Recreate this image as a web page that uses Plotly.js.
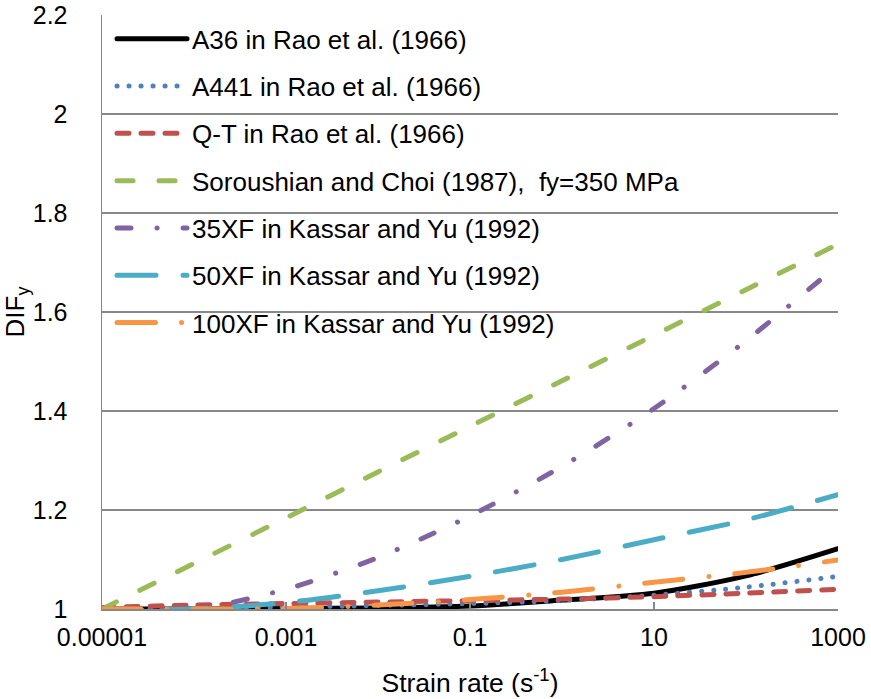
<!DOCTYPE html>
<html>
<head>
<meta charset="utf-8">
<script src="https://cdn.plot.ly/plotly-3.0.1.min.js"></script>
<style>
  html, body { margin: 0; padding: 0; background: #fff; }
  #chart { width: 871px; height: 699px; }
  .js-line { stroke-linecap: round !important; }
</style>
</head>
<body>
<div id="chart"></div>
<script>
// ---- data ----
const strainRate = [1e-5, 1e-4, 1e-3, 1e-2, 1e-1, 1, 10, 100, 1000];
const difA36     = [1.000, 1.000, 1.001, 1.002, 1.006, 1.018, 1.032, 1.067, 1.122];
const difA441    = [1.000, 1.002, 1.004, 1.007, 1.011, 1.017, 1.028, 1.044, 1.066];
const difQT      = [1.003, 1.008, 1.011, 1.014, 1.017, 1.020, 1.025, 1.032, 1.040];
const difSoroushian = [1.000, 1.092, 1.184, 1.277, 1.369, 1.461, 1.553, 1.645, 1.737];
const dif35XF    = [1.000, 1.000, 1.040, 1.104, 1.188, 1.288, 1.405, 1.542, 1.695];
const dif50XF    = [1.000, 1.000, 1.013, 1.037, 1.066, 1.100, 1.140, 1.180, 1.231];
const dif100XF   = [1.000, 1.000, 1.001, 1.008, 1.019, 1.034, 1.054, 1.074, 1.099];

const seriesNames = [
  "A36 in Rao et al. (1966)",
  "A441 in Rao et al. (1966)",
  "Q-T in Rao et al. (1966)",
  "Soroushian and Choi (1987),\u00a0 fy=350 MPa",
  "35XF in Kassar and Yu (1992)",
  "50XF in Kassar and Yu (1992)",
  "100XF in Kassar and Yu (1992)"
];
const xTickVals = [1e-5, 1e-3, 1e-1, 10, 1000];
const xTickText = ["0.00001", "0.001", "0.1", "10", "1000"];

// ---- styles ----
const seriesY = [difA36, difA441, difQT, difSoroushian, dif35XF, dif50XF, dif100XF];
const colors = ["#000000", "#4F81BD", "#C0504D", "#9BBB59", "#8064A2", "#4BACC6", "#F79646"];
const dashes = [
  "solid",
  "0.1px,11.9px",
  "12px,12px",
  "16px,26px",
  "14px,26px,0.1px,26px",
  "39px,27px",
  "38.5px,26px,0.1px,26px"
];
const FONT = "Liberation Sans, Arial, sans-serif";

const traces = seriesY.map((y, i) => ({
  type: "scatter",
  mode: "lines",
  x: strainRate,
  y: y,
  name: seriesNames[i],
  legendgroup: "g" + i,
  line: { color: colors[i], width: 5, dash: dashes[i], shape: "spline", smoothing: 0.8 },
  hoverinfo: "skip"
}));

const layout = {
  width: 871,
  height: 699,
  margin: { l: 102, r: 33, t: 15, b: 90, pad: 0 },
  paper_bgcolor: "#ffffff",
  plot_bgcolor: "#ffffff",
  font: { family: FONT, size: 25, color: "#000000" },
  showlegend: true,
  legend: {
    x: 0.0136, y: 0.9994, xanchor: "left", yanchor: "top",
    bgcolor: "rgba(0,0,0,0)", borderwidth: 0,
    font: { family: FONT, size: 26, color: "#000000" },
    itemwidth: 70,
    tracegroupgap: 10.5,
    traceorder: "grouped"
  },
  xaxis: {
    type: "log",
    range: [-5, 3],
    tickmode: "array",
    tickvals: xTickVals,
    ticktext: xTickText,
    ticks: "inside",
    ticklen: 7,
    tickwidth: 1.5,
    tickcolor: "#888888",
    showline: true,
    linecolor: "#888888",
    linewidth: 1.5,
    showgrid: false,
    zeroline: false,
    tickfont: { family: FONT, size: 25, color: "#000000" },
    ticklabelstandoff: 5,
    title: { text: "Strain rate (s<sup>-1</sup>)", font: { family: FONT, size: 26.5, color: "#000000" }, standoff: 24 },
    automargin: false
  },
  yaxis: {
    range: [1, 2.2],
    tick0: 1,
    dtick: 0.2,
    ticks: "",
    showline: true,
    linecolor: "#888888",
    linewidth: 1.5,
    showgrid: true,
    gridcolor: "#888888",
    gridwidth: 1.5,
    zeroline: false,
    tickfont: { family: FONT, size: 25, color: "#000000" },
    ticklabelstandoff: 28,
    title: { text: "DIF<sub>y</sub>", font: { family: FONT, size: 26, color: "#000000" }, standoff: 4 },
    automargin: false
  }
};

Plotly.newPlot("chart", traces, layout, { staticPlot: true, displayModeBar: false });
</script>
</body>
</html>
